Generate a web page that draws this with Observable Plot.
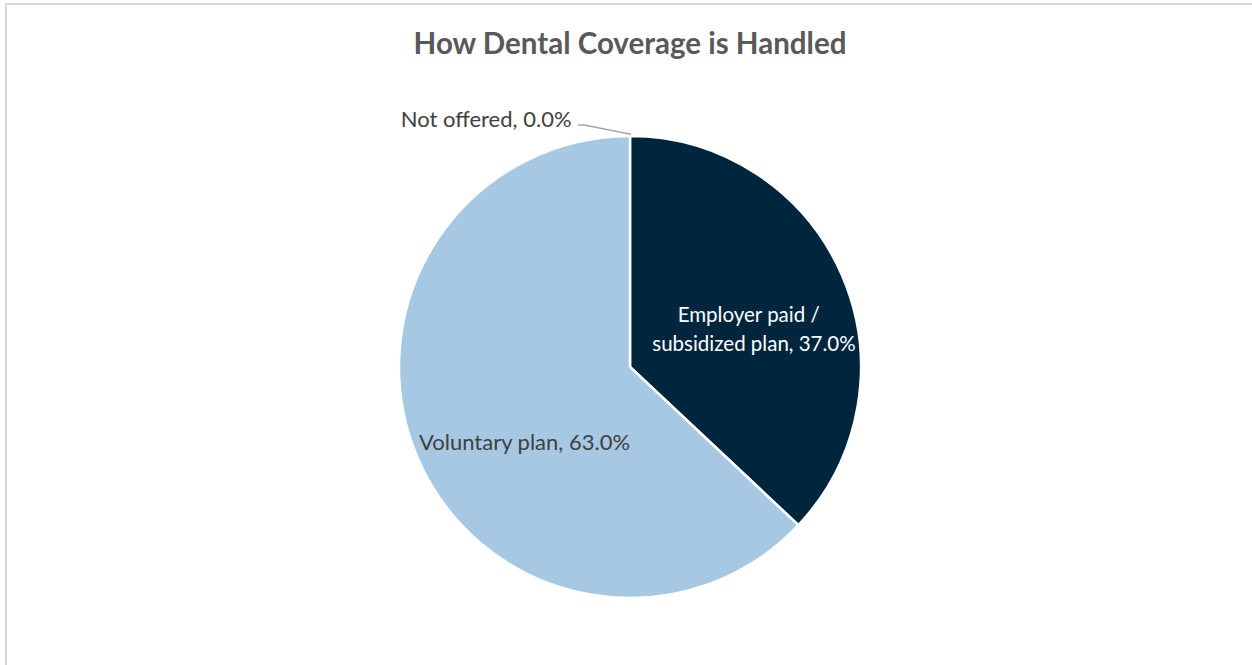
<!DOCTYPE html>
<html>
<head>
<meta charset="utf-8">
<script src="https://cdn.jsdelivr.net/npm/d3@7"></script>
<script src="https://cdn.jsdelivr.net/npm/@observablehq/plot@0.6"></script>
<style>
  html, body { margin: 0; padding: 0; background: #fff; overflow: hidden; }
  #frame { position: absolute; left: 5px; top: 3px; width: 1400px; height: 800px; border: 2px solid #d9d9d9; box-sizing: border-box; }
  #wrap { position: absolute; left: 0; top: 0; width: 1252px; }
  #title { height: 70px; box-sizing: border-box; padding-top: 27px; padding-left: 8px; text-align: center;
           font-family: Lato, "Open Sans", sans-serif; font-weight: bold; font-size: 29.5px; color: #595959; line-height: 32px; }
</style>
</head>
<body>
<div id="frame"></div>
<div id="wrap">
  <div id="title">How Dental Coverage is Handled</div>
  <div id="chart"></div>
</div>
<script>
const categories = ["Employer paid / subsidized plan", "Voluntary plan", "Not offered"];
const values = [37.0, 63.0, 0.0];
const labelTexts = ["Employer paid /\u00a0\u00a0\nsubsidized plan, 37.0%", "Voluntary plan, 63.0%", "Not offered, 0.0%"];
const colors = ["#00263e", "#a6c8e2", "#a6a6a6"];
const labelColors = ["#ffffff", "#404040", "#404040"];

const data = categories.map((c, i) => ({category: c, value: values[i], label: labelTexts[i], color: colors[i], labelColor: labelColors[i]}));
const arcs = d3.pie().sort(null).value(d => d.value)(data);

// label positions (data units, radius = 1), derived from the arcs
const unitArc = d3.arc().innerRadius(0).outerRadius(1.16);
const inside = arcs.filter(a => a.data.value > 0).map(a => {
  const [cx, cy] = unitArc.centroid(a);
  return {category: a.data.category, text: a.data.label, x: cx, y: -cy, color: a.data.labelColor};
});
const outside = arcs.filter(a => a.data.value === 0).map(a => {
  const ang = a.startAngle;
  const edge = [Math.sin(ang) * 1.01, Math.cos(ang) * 1.01];
  const elbow = [edge[0] - 0.2, edge[1] + 0.04];
  const end = [elbow[0] - 0.025, elbow[1]];
  return {text: a.data.label, x: end[0], y: end[1], leader: [edge, elbow, end], color: a.data.labelColor};
});
const leaderPts = outside.flatMap(o => o.leader.map(p => ({x: p[0], y: p[1]})));

function pie(index, scales) {
  const cx = scales.x(0), cy = scales.y(0), r = scales.x(1) - scales.x(0);
  const g = d3.create("svg:g").attr("transform", `translate(${cx},${cy})`);
  const arc = d3.arc().innerRadius(0).outerRadius(r);
  g.selectAll("path").data(arcs.filter(a => a.data.value > 0)).join("path")
    .attr("d", arc).attr("fill", d => d.data.color)
    .attr("stroke", "#fff").attr("stroke-width", 2.5).attr("stroke-linejoin", "miter");
  return g.node();
}

const font = "Lato, 'Open Sans', sans-serif";
const plot = Plot.plot({
  width: 1252,
  height: 595,
  margin: 0,
  x: {domain: [-1, 1], range: [399, 861], axis: null},
  y: {domain: [-1, 1], range: [528, 66], axis: null},
  marks: [
    pie,
    Plot.line(leaderPts, {x: "x", y: "y", stroke: "#a6a6a6", strokeWidth: 1.5}),
    Plot.text(inside.filter(d => d.category === categories[0]), {x: "x", y: "y", text: "text", fill: "color", dx: 0.5, dy: 13,
      lineHeight: 1.42, fontSize: 20.5, fontFamily: font}),
    Plot.text(inside.filter(d => d.category === categories[1]), {x: "x", y: "y", text: "text", fill: "color", dx: 17, dy: 20,
      lineHeight: 1.35, fontSize: 22, fontFamily: font}),
    Plot.text(outside, {x: "x", y: "y", text: "text", fill: "color", textAnchor: "end", dx: -7, dy: -5,
      fontSize: 22, fontFamily: font})
  ]
});
document.getElementById("chart").appendChild(plot);
</script>
</body>
</html>
